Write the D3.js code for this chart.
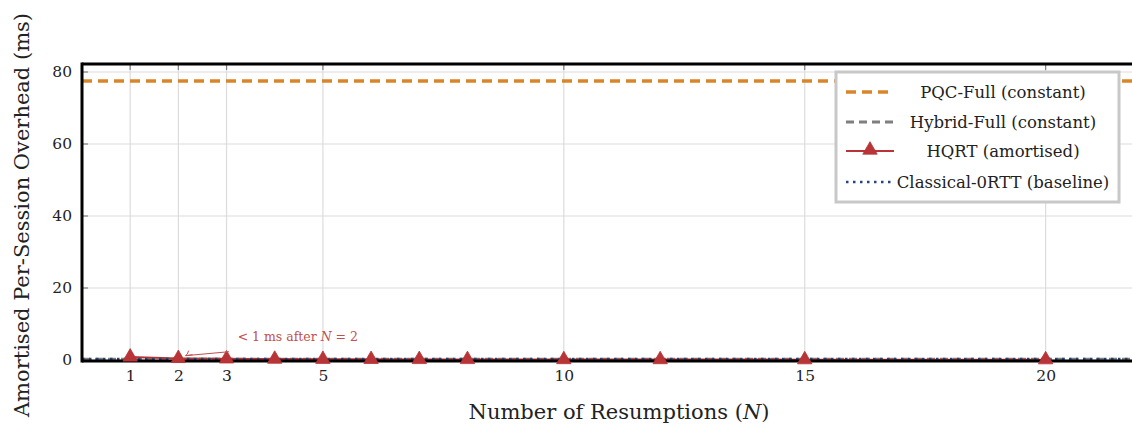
<!DOCTYPE html>
<html>
<head>
<meta charset="utf-8">
<script src="https://cdn.jsdelivr.net/npm/d3@7/dist/d3.min.js"></script>
<style>
  html, body { margin: 0; padding: 0; background: #fff; }
  svg { display: block; font-family: "DejaVu Serif", "Liberation Serif", serif; }
</style>
</head>
<body>
<svg id="chart" width="1132" height="425"></svg>
<script>
// Amortised per-session overhead vs number of resumptions
const resumptions = [1, 2, 3, 4, 5, 6, 7, 8, 10, 12, 15, 20];
const hqrtOverhead = [0.85, 0.45, 0.32, 0.25, 0.21, 0.18, 0.16, 0.15, 0.13, 0.12, 0.1, 0.09];
const pqcFullOverhead = 77.5;
const hybridFullOverhead = 0.3;
const classicalOverhead = 0.0;
const xTicks = [1, 2, 3, 5, 10, 15, 20];
const yTicks = [0, 20, 40, 60, 80];
const legendLabels = ["PQC-Full (constant)", "Hybrid-Full (constant)", "HQRT (amortised)", "Classical-0RTT (baseline)"];

const svg = d3.select("#chart");
const plotLeft = 82, plotRight = 1142, plotTop = 64, plotBottom = 360;
const serif = "DejaVu Serif, Liberation Serif, serif";

const x = d3.scaleLinear().domain([0, 22]).range([plotLeft, plotRight]);
const y = d3.scaleLinear().domain([0, 80]).range([plotBottom, 72]);

const colors = { pqc: "#d9862a", hybrid: "#7f7f7f", hqrt: "#b83436", classical: "#24477a" };

// clip region for the plot
svg.append("defs").append("clipPath").attr("id", "plotClip")
  .append("rect").attr("x", plotLeft).attr("y", plotTop)
  .attr("width", plotRight - plotLeft).attr("height", plotBottom - plotTop);

// grid
const grid = svg.append("g");
grid.selectAll(".vg").data(xTicks).join("line")
  .attr("x1", d => x(d)).attr("x2", d => x(d)).attr("y1", plotTop).attr("y2", plotBottom)
  .attr("stroke", "#dcdcdc").attr("stroke-width", 1.2);
grid.selectAll(".hg").data(yTicks).join("line")
  .attr("x1", plotLeft).attr("x2", plotRight).attr("y1", d => y(d)).attr("y2", d => y(d))
  .attr("stroke", "#dcdcdc").attr("stroke-width", 1.2);

// inward tick marks
const tickLen = 6;
const tickG = svg.append("g").attr("stroke", "#808080").attr("stroke-width", 1.2);
xTicks.forEach(t => {
  tickG.append("line").attr("x1", x(t)).attr("x2", x(t)).attr("y1", plotTop).attr("y2", plotTop + tickLen);
  tickG.append("line").attr("x1", x(t)).attr("x2", x(t)).attr("y1", plotBottom).attr("y2", plotBottom - tickLen);
});
yTicks.forEach(t => {
  tickG.append("line").attr("x1", plotLeft).attr("x2", plotLeft + tickLen).attr("y1", y(t)).attr("y2", y(t));
});

// axis tick labels via d3 axes (lines hidden)
const xAxis = svg.append("g").attr("transform", `translate(0,${plotBottom})`)
  .call(d3.axisBottom(x).tickValues(xTicks).tickSize(0).tickPadding(10));
xAxis.select(".domain").remove();
xAxis.selectAll("text").attr("font-size", 15.5).attr("fill", "#222").attr("font-family", serif);

const yAxis = svg.append("g").attr("transform", `translate(${plotLeft},0)`)
  .call(d3.axisLeft(y).tickValues(yTicks).tickSize(0).tickPadding(10));
yAxis.select(".domain").remove();
yAxis.selectAll("text").attr("font-size", 15.5).attr("fill", "#222").attr("font-family", serif);

const plot = svg.append("g").attr("clip-path", "url(#plotClip)");

// constant reference lines
plot.append("line").attr("x1", plotLeft).attr("x2", plotRight)
  .attr("y1", y(pqcFullOverhead)).attr("y2", y(pqcFullOverhead))
  .attr("stroke", colors.pqc).attr("stroke-width", 3.5).attr("stroke-dasharray", "10,6");
plot.append("line").attr("x1", plotLeft).attr("x2", plotRight)
  .attr("y1", y(hybridFullOverhead)).attr("y2", y(hybridFullOverhead))
  .attr("stroke", colors.hybrid).attr("stroke-width", 2.5).attr("stroke-dasharray", "8,5");

// HQRT amortised curve
const line = d3.line().x((d, i) => x(resumptions[i])).y(d => y(d));
plot.append("path").datum(hqrtOverhead).attr("d", line)
  .attr("fill", "none").attr("stroke", colors.hqrt).attr("stroke-width", 2);

// classical baseline
plot.append("line").attr("x1", plotLeft).attr("x2", plotRight)
  .attr("y1", y(classicalOverhead) - 1).attr("y2", y(classicalOverhead) - 1)
  .attr("stroke", colors.classical).attr("stroke-width", 2.5).attr("stroke-dasharray", "2.5,4.5");

// frame
svg.append("line").attr("x1", plotLeft).attr("x2", plotRight).attr("y1", plotTop).attr("y2", plotTop)
  .attr("stroke", "#000").attr("stroke-width", 3);
svg.append("line").attr("x1", plotLeft).attr("x2", plotRight).attr("y1", plotBottom + 1).attr("y2", plotBottom + 1)
  .attr("stroke", "#000").attr("stroke-width", 3);
svg.append("line").attr("x1", plotLeft).attr("x2", plotLeft).attr("y1", plotTop - 1.5).attr("y2", plotBottom + 2.5)
  .attr("stroke", "#000").attr("stroke-width", 3);

// HQRT markers
const tri = d3.symbol().type(d3.symbolTriangle).size(90);
svg.append("g").selectAll("path").data(hqrtOverhead).join("path")
  .attr("d", tri)
  .attr("transform", (d, i) => `translate(${x(resumptions[i])},${y(d)})`)
  .attr("fill", colors.hqrt).attr("stroke", colors.hqrt).attr("stroke-width", 0.8);

// annotation
const ann = svg.append("g");
const annText = ann.append("text").attr("x", x(3.23)).attr("y", y(5.3))
  .attr("font-size", 12.5).attr("fill", "#c0504d").attr("font-family", serif);
annText.append("tspan").text("< 1 ms after ");
annText.append("tspan").attr("font-style", "italic").text("N");
annText.append("tspan").text(" = 2");
const ax0 = x(3.05), ay0 = y(2.3), ax1 = x(2.15), ay1 = y(1.2);
ann.append("path")
  .attr("d", `M${ax0},${ay0} L${ax1},${ay1}`)
  .attr("stroke", "#c0504d").attr("stroke-width", 1).attr("fill", "none");
ann.append("path")
  .attr("d", `M${ax1 + 3},${ay1 - 5} Q${ax1 + 2},${ay1 - 1} ${ax1},${ay1} M${ax1},${ay1} L${ax1 + 7},${ay1 - 1}`)
  .attr("stroke", "#c0504d").attr("stroke-width", 1).attr("fill", "none");

// axis titles
svg.append("text").attr("x", 619).attr("y", 419)
  .attr("text-anchor", "middle").attr("font-size", 21).attr("fill", "#222")
  .call(t => {
    t.append("tspan").text("Number of Resumptions (");
    t.append("tspan").attr("font-style", "italic").text("N");
    t.append("tspan").text(")");
  });
svg.append("text").attr("transform", `translate(29,${(plotTop + plotBottom) / 2 + 3}) rotate(-90)`)
  .attr("text-anchor", "middle").attr("font-size", 21).attr("fill", "#222")
  .text("Amortised Per-Session Overhead (ms)");

// legend
const lg = svg.append("g").attr("transform", "translate(836,72)");
lg.append("rect").attr("x", 0).attr("y", 0).attr("width", 283).attr("height", 130)
  .attr("fill", "#fff").attr("stroke", "#c8c8c8").attr("stroke-width", 3);
const rowY = [20, 50, 79, 110];
const styles = [
  { c: colors.pqc, w: 3.5, dash: "10,6" },
  { c: colors.hybrid, w: 2.8, dash: "8,5" },
  { c: colors.hqrt, w: 2, dash: null, marker: true },
  { c: colors.classical, w: 2.5, dash: "2.5,4.5" }
];
legendLabels.forEach((lab, i) => {
  const s = styles[i];
  lg.append("line").attr("x1", 10).attr("x2", 58).attr("y1", rowY[i]).attr("y2", rowY[i])
    .attr("stroke", s.c).attr("stroke-width", s.w).attr("stroke-dasharray", s.dash);
  if (s.marker) {
    lg.append("path").attr("d", tri).attr("transform", `translate(34,${rowY[i] - 1})`)
      .attr("fill", s.c).attr("stroke", s.c).attr("stroke-width", 0.8);
  }
  lg.append("text").attr("x", 167).attr("y", rowY[i] + 6).attr("text-anchor", "middle")
    .attr("font-size", 16.5).attr("fill", "#222").text(lab);
});
</script>
</body>
</html>
